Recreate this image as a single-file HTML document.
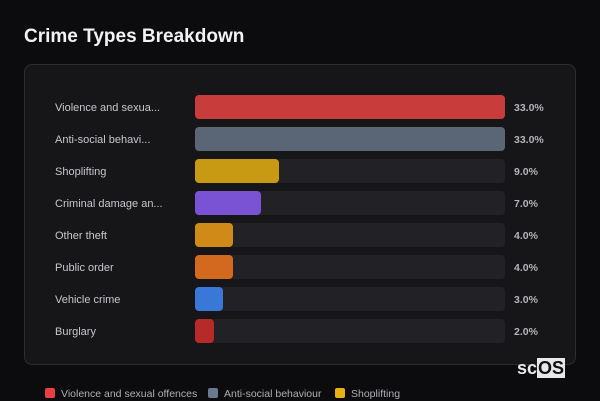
<!DOCTYPE html>
<html><head><style>
body{margin:0;width:600px;height:400px;background:#0c0c0f;font-family:"Liberation Sans","DejaVu Sans",sans-serif;overflow:hidden;position:relative}
h1{position:absolute;left:24px;top:25px;margin:0;font-size:19px;font-weight:bold;color:#f2f2f2;line-height:24px}
.card{position:absolute;left:24px;top:64px;width:552px;height:301px;border:1px solid #2c2c31;border-radius:8px;background:#161619;box-sizing:border-box}
.row{position:absolute;left:0;width:600px;height:24px}
.lab{position:absolute;left:55px;top:1px;line-height:24px;font-size:11px;color:#c8c8cc}
.trk{position:absolute;left:195px;top:0;width:310px;height:24px;background:#222226;border-radius:4px}
.bar{position:absolute;left:195px;top:0;height:24px;border-radius:4px}
.val{position:absolute;left:514px;top:1px;line-height:24px;font-size:10.5px;font-weight:bold;color:#b4b4b8}
.leg{position:absolute;top:387px;font-size:10.5px;color:#b0b0b4;line-height:14px}
.sw{display:inline-block;width:10px;height:10px;border-radius:2px;vertical-align:-1px;margin-right:6px}
.logo{position:absolute;left:517px;top:358px;font-size:18px;font-weight:bold;color:#e8e8e8;line-height:20px}
.logo span{background:#e8e8e8;color:#111;padding:0 1px}
</style></head><body>
<h1>Crime Types Breakdown</h1>
<div class="card"></div>
<div class="row" style="top:95px"><div class="lab">Violence and sexua...</div><div class="trk"></div><div class="bar" style="width:310px;background:#c83c3c"></div><div class="val">33.0%</div></div>
<div class="row" style="top:127px"><div class="lab">Anti-social behavi...</div><div class="trk"></div><div class="bar" style="width:310px;background:#5a6676"></div><div class="val">33.0%</div></div>
<div class="row" style="top:159px"><div class="lab">Shoplifting</div><div class="trk"></div><div class="bar" style="width:84px;background:#c89a14"></div><div class="val">9.0%</div></div>
<div class="row" style="top:191px"><div class="lab">Criminal damage an...</div><div class="trk"></div><div class="bar" style="width:66px;background:#7a52d4"></div><div class="val">7.0%</div></div>
<div class="row" style="top:223px"><div class="lab">Other theft</div><div class="trk"></div><div class="bar" style="width:38px;background:#d08a18"></div><div class="val">4.0%</div></div>
<div class="row" style="top:255px"><div class="lab">Public order</div><div class="trk"></div><div class="bar" style="width:38px;background:#d2691e"></div><div class="val">4.0%</div></div>
<div class="row" style="top:287px"><div class="lab">Vehicle crime</div><div class="trk"></div><div class="bar" style="width:28px;background:#3a78d8"></div><div class="val">3.0%</div></div>
<div class="row" style="top:319px"><div class="lab">Burglary</div><div class="trk"></div><div class="bar" style="width:19px;background:#b82a2a"></div><div class="val">2.0%</div></div>
<div class="leg" style="left:45px"><span class="sw" style="background:#e84040"></span>Violence and sexual offences</div>
<div class="leg" style="left:208px"><span class="sw" style="background:#6a7890"></span>Anti-social behaviour</div>
<div class="leg" style="left:335px"><span class="sw" style="background:#e8b010"></span>Shoplifting</div>
<div class="logo">sc<span>OS</span></div>
</body></html>
